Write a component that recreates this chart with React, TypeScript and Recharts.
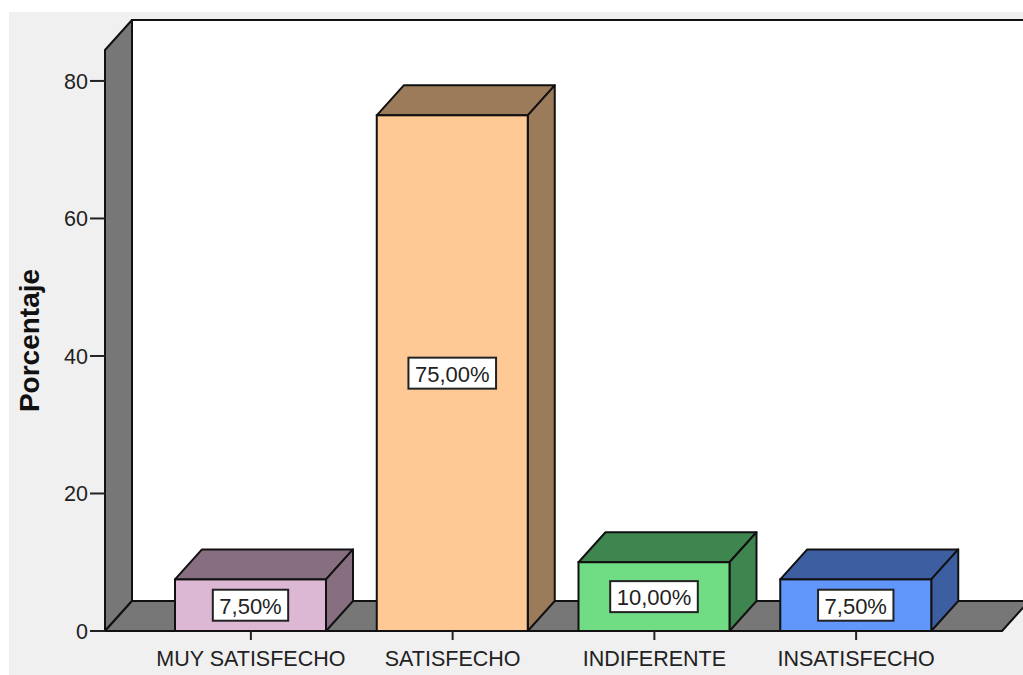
import React from 'react';
import { BarChart, Bar, XAxis, YAxis, ReferenceArea, LabelList, Cell } from 'recharts';

const categories = ['MUY SATISFECHO', 'SATISFECHO', 'INDIFERENTE', 'INSATISFECHO'];
const percentages = [7.5, 75.0, 10.0, 7.5];
const yTicks = [0, 20, 40, 60, 80];
const frontColors = ['#dcb8d4', '#ffc996', '#70dc84', '#6197fb'];
const sideColors = ['#876f81', '#9c7b5b', '#3f8550', '#3d5fa1'];

const data = categories.map((c, i) => ({ name: c, value: percentages[i], idx: i }));

const DX = 27;
const DY = -30;
const PAD = 45;
const FONT = 'Liberation Sans, Arial, sans-serif';

const Walls = (props: any) => {
  const { x, y, width, height } = props;
  const x0 = x - PAD;
  const x1 = x + width + PAD;
  const yb = y + height;
  const yt = y;
  return (
    <g>
      <rect x={x0 + DX} y={yt + DY} width={x1 - x0 + 60} height={height} fill="#ffffff" stroke="#111" strokeWidth={2} />
      <polygon
        points={`${x0},${yt} ${x0 + DX},${yt + DY} ${x0 + DX},${yb + DY} ${x0},${yb}`}
        fill="#777777"
        stroke="#111"
        strokeWidth={2}
        strokeLinejoin="round"
      />
      <polygon
        points={`${x0},${yb} ${x0 + DX},${yb + DY} ${x1 + DX},${yb + DY} ${x1},${yb}`}
        fill="#777777"
        stroke="#111"
        strokeWidth={2}
        strokeLinejoin="round"
      />
    </g>
  );
};

const Bar3D = (props: any) => {
  const { x, y, width, height, payload } = props;
  const i = payload.idx;
  const front = frontColors[i];
  const side = sideColors[i];
  return (
    <g>
      <polygon
        points={`${x},${y} ${x + DX},${y + DY} ${x + width + DX},${y + DY} ${x + width},${y}`}
        fill={side}
        stroke="#111"
        strokeWidth={2}
        strokeLinejoin="round"
      />
      <polygon
        points={`${x + width},${y} ${x + width + DX},${y + DY} ${x + width + DX},${y + height + DY} ${x + width},${y + height}`}
        fill={side}
        stroke="#111"
        strokeWidth={2}
        strokeLinejoin="round"
      />
      <rect x={x} y={y} width={width} height={height} fill={front} stroke="#111" strokeWidth={2} />
    </g>
  );
};

const fmt = (v: number) => v.toFixed(2).replace('.', ',') + '%';

const ValueLabel = (props: any) => {
  const { x, y, width, height, value } = props;
  const text = fmt(value);
  const charW = (ch: string) => (ch === ',' ? 0.278 : ch === '%' ? 0.889 : 0.556);
  const tw = text.split('').reduce((s, ch) => s + charW(ch), 0) * 22;
  const w = tw + 13;
  const h = 31;
  const cx = x + width / 2;
  const cy = y + height / 2;
  return (
    <g>
      <rect x={cx - w / 2} y={cy - h / 2} width={w} height={h} fill="#fff" stroke="#222" strokeWidth={2} />
      <text x={cx} y={cy + 1} textAnchor="middle" dominantBaseline="central" fontFamily={FONT} fontSize={22} fill="#222">
        {text}
      </text>
    </g>
  );
};

const YLabel = (props: any) => {
  const { viewBox } = props;
  const cx = viewBox.x + 29;
  const cy = viewBox.y + viewBox.height / 2;
  return (
    <text
      x={cx}
      y={cy}
      transform={`rotate(-90 ${cx} ${cy})`}
      textAnchor="middle"
      dominantBaseline="central"
      fontFamily={FONT}
      fontWeight="bold"
      fontSize={28}
      fill="#111"
    >
      Porcentaje
    </text>
  );
};

export default function App() {
  return (
    <div style={{ position: 'absolute', left: 0, top: 0, width: 1023, height: 675, background: '#ffffff' }}>
      <div style={{ position: 'absolute', left: 9, top: 12, width: 1014, height: 663, background: '#f0f0f0' }} />
      <div style={{ position: 'absolute', left: 0, top: 0 }}>
        <BarChart
          width={1023}
          height={675}
          data={data}
          margin={{ top: 50, right: 21, bottom: 0, left: 0 }}
          barSize={151}
        >
          <ReferenceArea y1={0} y2={84.5} ifOverflow="visible" shape={<Walls />} />
          <XAxis
            dataKey="name"
            height={44}
            axisLine={false}
            tickLine={{ stroke: '#222', strokeWidth: 2 }}
            tickSize={9}
            padding={{ left: PAD, right: PAD }}
            tick={{ fill: '#222', fontSize: 21.5, fontFamily: FONT, dy: 9 }}
            interval={0}
          />
          <YAxis
            type="number"
            domain={[0, 84.5]}
            ticks={yTicks}
            width={105}
            axisLine={false}
            tickLine={{ stroke: '#222', strokeWidth: 2 }}
            tickSize={15}
            tick={{ fill: '#222', fontSize: 21.5, fontFamily: FONT }}
            label={<YLabel />}
          />
          <Bar dataKey="value" shape={<Bar3D />} isAnimationActive={false}>
            {data.map((d, i) => (
              <Cell key={i} fill={frontColors[i]} />
            ))}
            <LabelList dataKey="value" content={<ValueLabel />} />
          </Bar>
        </BarChart>
      </div>
    </div>
  );
}
